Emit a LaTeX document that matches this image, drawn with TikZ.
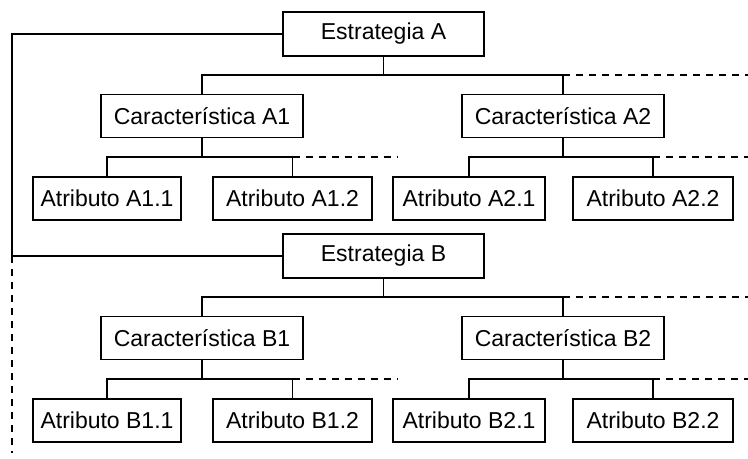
\documentclass[tikz,border=0pt]{standalone}
\usepackage{fontspec}
\setmainfont{Liberation Sans}
\usetikzlibrary{calc}

\begin{document}
\begin{tikzpicture}[x=0.5pt, y=-0.5pt, font=\fontsize{11.5}{14}\selectfont]

		% --- Parametri Geometrici ---
		\def\levE{34}     % livello Estrategia
		\def\busE{75}     % barra sotto Estrategia
		\def\levC{116}    % livello Caracteristica
		\def\busC{157}    % barra sotto Caracteristica
		\def\levT{198.5}  % livello Atributo
		\def\shiftB{222}  % distanza blocco B

		% --- Stili ---
		\tikzset{
			box/.style={draw=black, line width=0.6pt, inner sep=0pt, minimum height=21.5pt},
			wire/.style={draw=black, line width=0.6pt},
			openwire/.style={wire, dash pattern=on 3.5pt off 3pt}
		}

		\useasboundingbox (0,0) rectangle (748,459);

		% --- Blocco A ---
		\node[box, minimum width=100.5pt, minimum height=22pt] (EA) at (383.5, \levE) {Estrategia A};
		\node[box, minimum width=101pt] (CA1) at (202, \levC) {Característica A1};
		\node[box, minimum width=101pt] (CA2) at (563, \levC) {Característica A2};
		\node[box, minimum width=74pt] (TA11) at (107, \levT) {Atributo A1.1};
		\node[box, minimum width=79.5pt] (TA12) at (292.5, \levT) {Atributo A1.2};
		\node[box, minimum width=76pt] (TA21) at (469, \levT) {Atributo A2.1};
		\node[box, minimum width=80pt] (TA22) at (653, \levT) {Atributo A2.2};

		% --- Blocco B ---
		\node[box, minimum width=100.5pt, minimum height=22pt] (EB) at (383.5, \levE+\shiftB) {Estrategia B};
		\node[box, minimum width=101pt] (CB1) at (202, \levC+\shiftB) {Característica B1};
		\node[box, minimum width=101pt] (CB2) at (563, \levC+\shiftB) {Característica B2};
		\node[box, minimum width=74pt] (TB11) at (107, \levT+\shiftB) {Atributo B1.1};
		\node[box, minimum width=79.5pt] (TB12) at (292.5, \levT+\shiftB) {Atributo B1.2};
		\node[box, minimum width=76pt] (TB21) at (469, \levT+\shiftB) {Atributo B2.1};
		\node[box, minimum width=80pt] (TB22) at (653, \levT+\shiftB) {Atributo B2.2};

		% --- Coordinate delle barre ---
		\coordinate (busA) at (383.5, \busE);
		\coordinate (busA1) at (202, \busC);
		\coordinate (busA2) at (563, \busC);
		\coordinate (busB) at (383.5, \busE+\shiftB);
		\coordinate (busB1) at (202, \busC+\shiftB);
		\coordinate (busB2) at (563, \busC+\shiftB);
		\coordinate (openA) at (748, \busE);
		\coordinate (openA1) at (397, \busC);
		\coordinate (openA2) at (748, \busC);
		\coordinate (openB) at (748, \busE+\shiftB);
		\coordinate (openB1) at (397, \busC+\shiftB);
		\coordinate (openB2) at (748, \busC+\shiftB);
		\coordinate (trunk) at (12, 150);
		\coordinate (trunkEnd) at (12, 453);

		% --- Tronco a sinistra ---
		\draw[wire] (EA.west) -| (trunk) |- (EB.west);
		\draw[openwire] (EB.west -| trunk) -- (trunkEnd);

		% --- Collegamenti A ---
		\draw[wire] (EA.south) -- (busA);
		\draw[wire] (CA1.north) |- (CA2.north |- busA) -- (CA2.north);
		\draw[openwire] (CA2.north |- busA) -- (openA);

		\draw[wire] (CA1.south) -- (busA1);
		\draw[wire] (TA11.north) |- (TA12.north |- busA1) -- (TA12.north);
		\draw[openwire] (TA12.north |- busA1) -- (openA1);

		\draw[wire] (CA2.south) -- (busA2);
		\draw[wire] (TA21.north) |- (TA22.north |- busA2) -- (TA22.north);
		\draw[openwire] (TA22.north |- busA2) -- (openA2);

		% --- Collegamenti B ---
		\draw[wire] (EB.south) -- (busB);
		\draw[wire] (CB1.north) |- (CB2.north |- busB) -- (CB2.north);
		\draw[openwire] (CB2.north |- busB) -- (openB);

		\draw[wire] (CB1.south) -- (busB1);
		\draw[wire] (TB11.north) |- (TB12.north |- busB1) -- (TB12.north);
		\draw[openwire] (TB12.north |- busB1) -- (openB1);

		\draw[wire] (CB2.south) -- (busB2);
		\draw[wire] (TB21.north) |- (TB22.north |- busB2) -- (TB22.north);
		\draw[openwire] (TB22.north |- busB2) -- (openB2);

	\end{tikzpicture}
\end{document}
